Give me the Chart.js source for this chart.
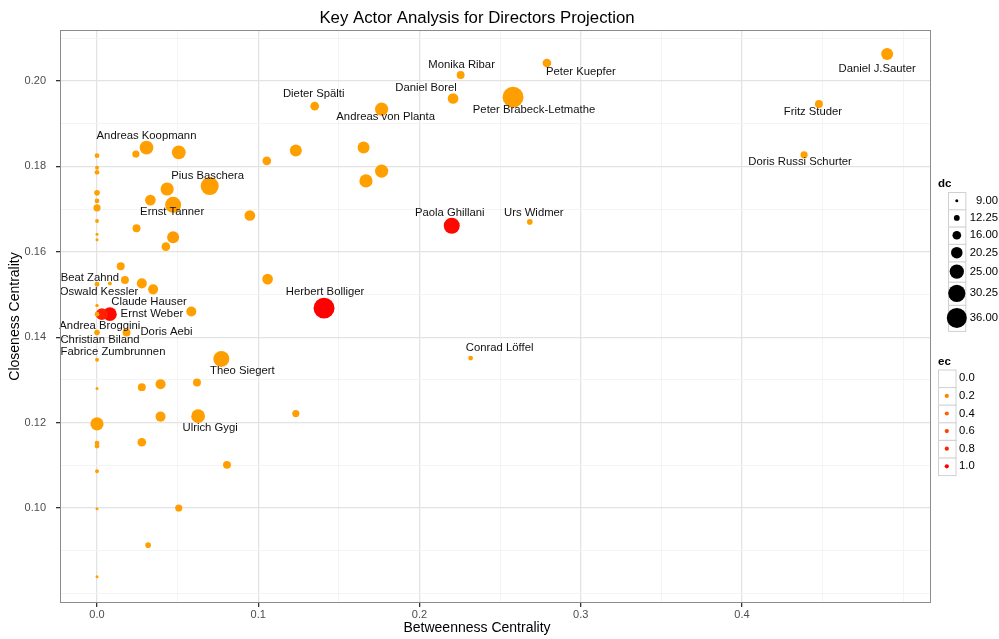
<!DOCTYPE html>
<html>
<head>
<meta charset="utf-8">
<script src="https://cdn.jsdelivr.net/npm/chart.js@4.4.1/dist/chart.umd.min.js"></script>
<style>
  html, body { margin: 0; padding: 0; background: #fff; }
</style>
</head>
<body>
<canvas id="c" width="999" height="639"></canvas>
<script>
// directors: betweenness (x), closeness (y), degree (dc -> size), eigenvector (ec -> colour)
const names = [
  'Daniel J.Sauter', 'Peter Kuepfer', 'Monika Ribar', 'Peter Brabeck-Letmathe', 'Daniel Borel',
  'Dieter Spälti', 'Andreas von Planta', 'Fritz Studer', 'Doris Russi Schurter', 'Andreas Koopmann',
  'Pius Baschera', 'Ernst Tanner', 'Paola Ghillani', 'Urs Widmer', 'Herbert Bolliger',
  'Conrad Löffel', 'Theo Siegert', 'Ulrich Gygi', 'Beat Zahnd', 'Oswald Kessler',
  'Claude Hauser', 'Ernst Weber', 'Andrea Broggini', 'Doris Aebi', 'Christian Biland',
  'Fabrice Zumbrunnen',
  '', '', '', '', '', '', '', '', '', '',
  '', '', '', '', '', '', '', '', '', '',
  '', '', '', '', '', '', '', '', '', '',
  '', '', '', '', '', '', '', '', '', '',
  '', '', '', '', '', ''
];
const betweenness = [
  0.490, 0.279, 0.2255, 0.258, 0.2208,
  0.135, 0.1765, 0.4477, 0.4385, 0.0307,
  0.0699, 0.0472, 0.2200, 0.2684, 0.1408,
  0.2317, 0.0771, 0.0627, 0.008, 0.000,
  0.000, 0.008, 0.003, 0.0183, 0.000,
  0.000,
  0.000, 0.0147, 0.0173, 0.0278, 0.0348, 0.0585, 0.000, 0.0278, 0.0394, 0.062,
  0.000, 0.0241, 0.0507, 0.1053, 0.1233, 0.000, 0.000, 0.000, 0.000, 0.000,
  0.000, 0.000, 0.000, 0.0245, 0.0331, 0.0435, 0.0948, 0.0472, 0.0427, 0.1653,
  0.1765, 0.1668, 0.1058, 0.1233, 0.000, 0.0394, 0.000, 0.000, 0.0278, 0.000,
  0.0806, 0.000, 0.0507, 0.0317, 0.000, 0.000
];
const closeness = [
  0.2063, 0.2042, 0.2014, 0.1962, 0.1959,
  0.1941, 0.1934, 0.1946, 0.1827, 0.1844,
  0.1754, 0.1710, 0.1661, 0.1670, 0.1468,
  0.1351, 0.1349, 0.1215, 0.1526, 0.1524,
  0.1474, 0.1454, 0.1454, 0.1411, 0.1411,
  0.1347,
  0.1454, 0.1566, 0.1534, 0.1526, 0.1512, 0.1460, 0.1280, 0.1283, 0.1290, 0.1294,
  0.1825, 0.1829, 0.1833, 0.1813, 0.1837, 0.1797, 0.1786, 0.1738, 0.1719, 0.1703,
  0.1672, 0.1641, 0.1628, 0.1655, 0.1721, 0.1747, 0.1685, 0.1634, 0.1612, 0.1844,
  0.1789, 0.1766, 0.1536, 0.1221, 0.1197, 0.1214, 0.1152, 0.1145, 0.1154, 0.1086,
  0.1101, 0.0998, 0.1000, 0.0913, 0.0839, 0.1474
];
const dc = [
  21, 16, 15, 38, 19,
  16, 23, 15, 14, 24,
  32, 28, 28, 12, 38,
  11, 28, 24, 10, 11,
  9, 24, 21, 15, 12,
  10,
  11, 15, 15, 18, 18, 18, 9, 15, 18, 15,
  11, 14, 24, 16, 21, 10, 11, 12, 11, 14,
  10, 9, 9, 15, 19, 23, 19, 21, 16, 21,
  23, 23, 19, 14, 23, 18, 11, 11, 16, 10,
  15, 9, 14, 12, 9, 9
];
const ec = [
  0.03, 0.03, 0.03, 0.04, 0.03,
  0.03, 0.03, 0.03, 0.03, 0.04,
  0.04, 0.04, 0.95, 0.03, 1.00,
  0.03, 0.04, 0.04, 0.03, 0.03,
  0.03, 0.95, 0.80, 0.03, 0.03,
  0.03,
  0.03, 0.03, 0.03, 0.03, 0.03, 0.03, 0.03, 0.03, 0.03, 0.03,
  0.03, 0.03, 0.03, 0.03, 0.03, 0.03, 0.03, 0.03, 0.03, 0.03,
  0.03, 0.03, 0.03, 0.03, 0.03, 0.03, 0.03, 0.06, 0.03, 0.03,
  0.03, 0.03, 0.03, 0.03, 0.03, 0.03, 0.03, 0.03, 0.03, 0.03,
  0.03, 0.03, 0.03, 0.03, 0.03, 0.03
];

const xMajor = [0, 0.1, 0.2, 0.3, 0.4];
const xMinor = [0.05, 0.15, 0.25, 0.35, 0.45, 0.5];
const yMajor = [0.10, 0.12, 0.14, 0.16, 0.18, 0.20];
const yMinor = [0.08, 0.09, 0.11, 0.13, 0.15, 0.17, 0.19, 0.21];
const dcBreaks = [9, 12.25, 16, 20.25, 25, 30.25, 36];
const ecBreaks = [0.0, 0.2, 0.4, 0.6, 0.8, 1.0];

// where each name sits relative to its point (px)
const labelOffsets = {
  'Daniel J.Sauter': [-10, 15], 'Peter Kuepfer': [34, 9], 'Monika Ribar': [1, -10],
  'Peter Brabeck-Letmathe': [21, 13], 'Daniel Borel': [-27, -11], 'Dieter Spälti': [-1, -12],
  'Andreas von Planta': [4, 8], 'Fritz Studer': [-6, 8], 'Doris Russi Schurter': [-4, 7],
  'Andreas Koopmann': [0, -12], 'Pius Baschera': [-2, -10], 'Ernst Tanner': [-1, 7],
  'Paola Ghillani': [-2, -13], 'Urs Widmer': [4, -9], 'Herbert Bolliger': [1, -16],
  'Conrad Löffel': [29, -10], 'Theo Siegert': [21, 12], 'Ulrich Gygi': [12, 12],
  'Beat Zahnd': [-20, -6], 'Oswald Kessler': [2, 8], 'Claude Hauser': [52, -4],
  'Ernst Weber': [42, 0], 'Andrea Broggini': [-2, 12], 'Doris Aebi': [40, -1],
  'Christian Biland': [3, 7], 'Fabrice Zumbrunnen': [16, -8]
};

const FONT = '"Liberation Sans", Arial, sans-serif';

function radiusFor(d) {
  return Math.max(1, 1.5 + (Math.sqrt(d) - 3) / 3 * 8.5);
}
function colourFor(e) {
  const t = Math.min(1, Math.max(0, e));
  return 'rgb(255,' + Math.round(165 * (1 - t)) + ',0)';
}
function inList(list, v) {
  return list.some(m => Math.abs(m - v) < 1e-9);
}

const decorations = {
  id: 'decorations',
  afterDatasetsDraw(chart) {
    const ctx = chart.ctx;
    const meta = chart.getDatasetMeta(0);
    ctx.save();
    ctx.font = '11.3px ' + FONT;
    ctx.fillStyle = '#111';
    ctx.textAlign = 'center';
    ctx.textBaseline = 'middle';
    names.forEach((n, i) => {
      if (!n) return;
      const p = meta.data[i];
      const o = labelOffsets[n] || [0, -12];
      ctx.fillText(n, p.x + o[0], p.y + o[1]);
    });
    ctx.restore();
  },
  afterDraw(chart) {
    const ctx = chart.ctx;
    const a = chart.chartArea;
    ctx.save();
    // panel frame
    ctx.strokeStyle = '#8c8c8c';
    ctx.lineWidth = 1;
    ctx.strokeRect(a.left + 0.5, a.top + 0.5, a.right - a.left - 1, a.bottom - a.top - 1);

    // titles
    ctx.fillStyle = '#000';
    ctx.textAlign = 'center';
    ctx.textBaseline = 'middle';
    ctx.font = '16.8px ' + FONT;
    ctx.fillText('Key Actor Analysis for Directors Projection', 477, 18);
    ctx.font = '14px ' + FONT;
    ctx.fillText('Betweenness Centrality', 477, 628);
    ctx.save();
    ctx.translate(15, (a.top + a.bottom) / 2);
    ctx.rotate(-Math.PI / 2);
    ctx.fillText('Closeness Centrality', 0, 0);
    ctx.restore();

    // size legend
    ctx.textAlign = 'left';
    ctx.font = 'bold 11.5px ' + FONT;
    ctx.fillText('dc', 938, 184);
    let y = 192;
    ctx.font = '11.3px ' + FONT;
    dcBreaks.forEach(b => {
      const r = radiusFor(b);
      const h = Math.max(17.3, 2 * r + 6);
      ctx.fillStyle = '#fff';
      ctx.fillRect(948, y, 17.3, h);
      ctx.strokeStyle = '#d0d0d0';
      ctx.strokeRect(948.5, y + 0.5, 17.3, h);
      ctx.fillStyle = '#000';
      ctx.beginPath();
      ctx.arc(948 + 8.8, y + h / 2, r, 0, Math.PI * 2);
      ctx.fill();
      ctx.textAlign = 'right';
      ctx.fillText(b.toFixed(2), 998, y + h / 2);
      y += h;
    });

    // colour legend
    ctx.textAlign = 'left';
    ctx.font = 'bold 11.5px ' + FONT;
    ctx.fillStyle = '#000';
    ctx.fillText('ec', 938, 362);
    ctx.font = '11.3px ' + FONT;
    y = 369.5;
    ecBreaks.forEach(b => {
      const h = 17.6;
      ctx.fillStyle = '#fff';
      ctx.fillRect(938, y, 17.5, h);
      ctx.strokeStyle = '#d0d0d0';
      ctx.strokeRect(938.5, y + 0.5, 17.5, h);
      if (b > 0) {
        ctx.fillStyle = colourFor(b);
        ctx.beginPath();
        ctx.arc(938 + 8.8, y + h / 2, 2.1, 0, Math.PI * 2);
        ctx.fill();
      }
      ctx.fillStyle = '#000';
      ctx.fillText(b.toFixed(1), 959, y + h / 2);
      y += h;
    });
    ctx.restore();
  }
};

const tickFont = { family: FONT, size: 11 };

new Chart(document.getElementById('c').getContext('2d'), {
  type: 'scatter',
  data: {
    datasets: [{
      label: 'directors',
      data: betweenness.map((x, i) => ({ x: x, y: closeness[i] })),
      pointRadius: c => radiusFor(dc[c.dataIndex]),
      pointHoverRadius: c => radiusFor(dc[c.dataIndex]),
      backgroundColor: c => colourFor(ec[c.dataIndex]),
      borderWidth: 0
    }]
  },
  options: {
    responsive: false,
    animation: false,
    devicePixelRatio: 1,
    layout: { padding: { top: 30, right: 68, left: 0, bottom: 0 } },
    plugins: { legend: { display: false }, tooltip: { enabled: false }, title: { display: false } },
    scales: {
      x: {
        type: 'linear',
        min: -0.02295,
        max: 0.5172,
        afterBuildTicks: s => { s.ticks = xMajor.concat(xMinor).sort((p, q) => p - q).map(v => ({ value: v })); },
        afterFit: s => { s.height = 36; },
        ticks: {
          autoSkip: false, maxRotation: 0, padding: 1, color: '#4d4d4d', font: tickFont,
          callback: v => inList(xMajor, v) ? v.toFixed(1) : ''
        },
        grid: {
          color: c => inList(xMajor, c.tick.value) ? '#e3e3e3' : '#f4f4f4',
          lineWidth: c => inList(xMajor, c.tick.value) ? 1.3 : 1,
          tickColor: c => inList(xMajor, c.tick.value) ? '#333' : 'rgba(0,0,0,0)',
          tickLength: 4,
          drawTicks: true
        },
        border: { display: false }
      },
      y: {
        type: 'linear',
        min: 0.07775,
        max: 0.21194,
        afterBuildTicks: s => { s.ticks = yMajor.concat(yMinor).sort((p, q) => p - q).map(v => ({ value: v })); },
        afterFit: s => { s.width = 60; },
        ticks: {
          autoSkip: false, padding: 10, color: '#4d4d4d', font: tickFont,
          callback: v => inList(yMajor, v) ? v.toFixed(2) : ''
        },
        grid: {
          color: c => inList(yMajor, c.tick.value) ? '#e3e3e3' : '#f4f4f4',
          lineWidth: c => inList(yMajor, c.tick.value) ? 1.3 : 1,
          tickColor: c => inList(yMajor, c.tick.value) ? '#333' : 'rgba(0,0,0,0)',
          tickLength: 4,
          drawTicks: true
        },
        border: { display: false }
      }
    }
  },
  plugins: [decorations]
});
</script>
</body>
</html>
